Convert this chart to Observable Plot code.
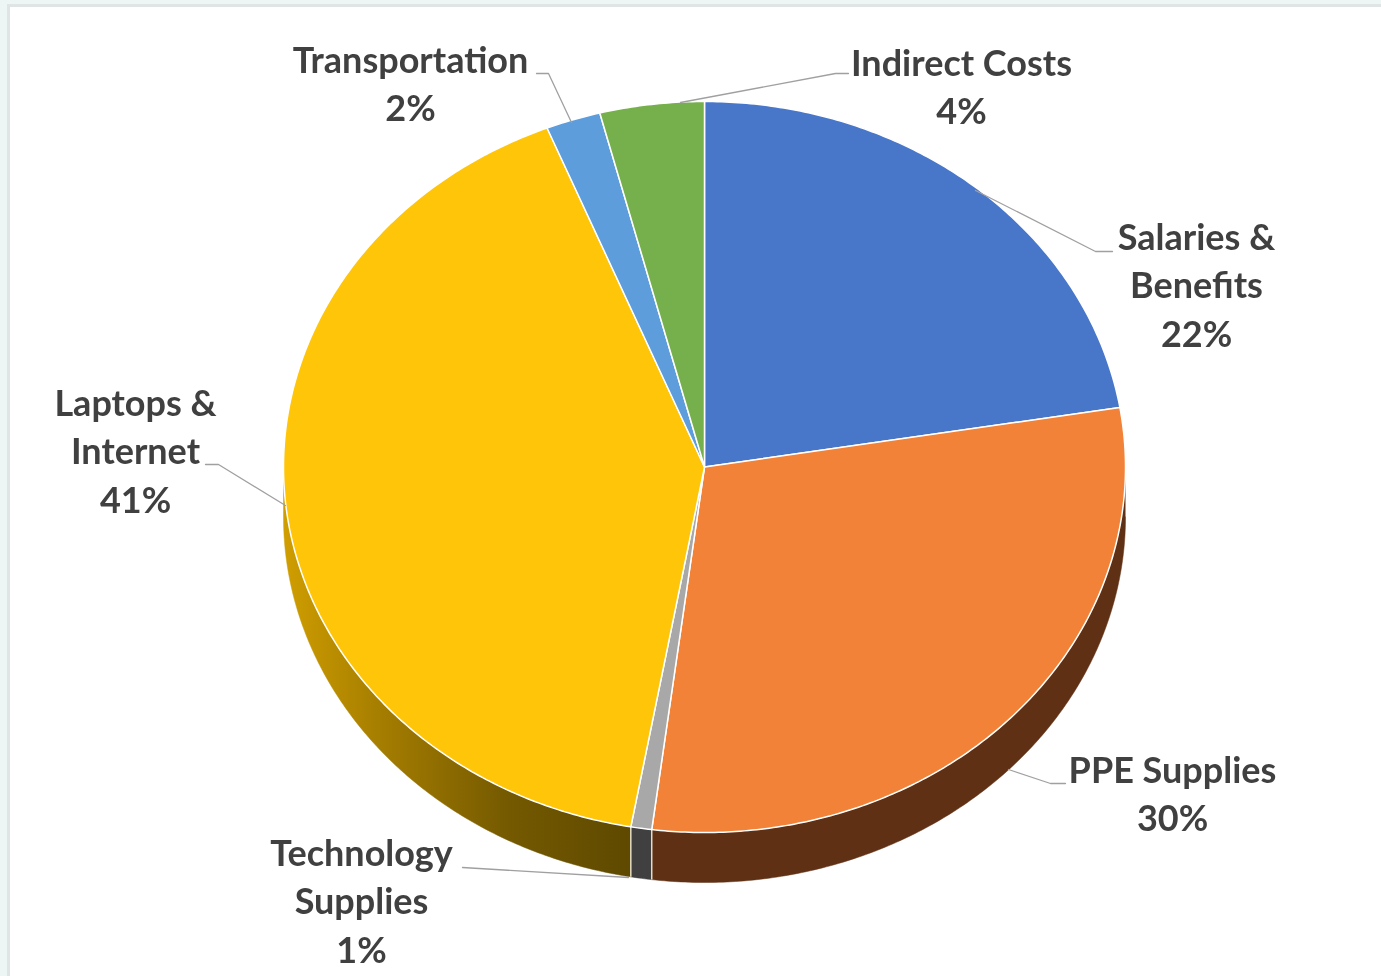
<!DOCTYPE html>
<html>
<head>
<meta charset="utf-8">
<script src="https://cdn.jsdelivr.net/npm/d3@7"></script>
<script src="https://cdn.jsdelivr.net/npm/@observablehq/plot@0.6"></script>
<style>
  html, body { margin: 0; padding: 0; background: #eef5f5; overflow: hidden; }
  #frame { position: absolute; left: 7px; top: 4px; right: 0; bottom: 0; background: #fff;
           border-left: 3px solid #dfe4e4; border-top: 3px solid #dfe4e4; }
  #chart { position: absolute; left: 0; top: 0; width: 1381px; height: 976px; }
  #chart svg { background: transparent; display: block; filter: blur(0.6px); }
</style>
</head>
<body>
<div id="frame"></div>
<div id="chart"></div>
<script>
// Data
const categories = ["Salaries & Benefits", "PPE Supplies", "Technology Supplies", "Laptops & Internet", "Transportation", "Indirect Costs"];
const shares = [22.4, 29.6, 0.8, 41.1, 2.1, 4];
const labelLines = ["Salaries &\nBenefits", "PPE Supplies", "Technology\nSupplies", "Laptops &\nInternet", "Transportation", "Indirect Costs"];

// Styles
const topColors = ["#4876c8", "#f28237", "#a8a8a8", "#ffc508", "#5e9ddb", "#75b04c"];
const sideColors = ["#2a4578", "#5f3014", "#404040", "url(#yellowSide)", "#375f85", "#466a2e"];

// Layout (separate from the data)
const pie = {cx: 704, cy: 466.5, rx: 421, ry: 365.5, depth: 50};
const labelPos = [[1196, 215], [1172, 748], [361, 831], [135, 381], [410, 38], [961, 41]];
const leaders = [
  [[1112, 251], [1095, 251], [975, 190]],
  [[1065, 783], [1050, 783], [1008, 769]],
  [[462, 867], [628, 877]],
  [[205, 464], [218, 464], [285, 505]],
  [[536, 73], [548, 73], [571, 122]],
  [[848, 73], [835, 73], [680, 102]]
];

const ex = t => pie.cx + pie.rx * Math.sin(t);
const ey = t => pie.cy - pie.ry * Math.cos(t);
const arc = (t0, t1) => {
  const n = Math.max(2, Math.ceil(Math.abs(t1 - t0) / 0.01));
  return d3.range(n + 1).map(i => t0 + (t1 - t0) * i / n);
};

const total = d3.sum(shares);
const ends = d3.cumsum(shares).map(v => v / total * 2 * Math.PI);
const wedges = categories.map((c, i) => ({c, i, t0: i ? ends[i - 1] : 0, t1: ends[i]}));

const topPts = wedges.flatMap(w => [
  {c: w.c, x: pie.cx, y: pie.cy},
  ...arc(w.t0, w.t1).map(t => ({c: w.c, x: ex(t), y: ey(t)})),
  {c: w.c, x: pie.cx, y: pie.cy}
]);

// Only the front half of the rim is visible
const sideMarks = wedges.flatMap(w => {
  const a = Math.max(w.t0, Math.PI / 2), b = Math.min(w.t1, 3 * Math.PI / 2);
  if (b <= a) return [];
  const ts = arc(a, b);
  const pts = [
    ...ts.map(t => ({x: ex(t), y: ey(t)})),
    ...ts.slice().reverse().map(t => ({x: ex(t), y: ey(t) + pie.depth}))
  ];
  return [Plot.line(pts, {x: "x", y: "y", fill: sideColors[w.i], stroke: sideColors[w.i], strokeWidth: 0.5})];
});

const seams = wedges.filter(w => w.t1 > Math.PI / 2 && w.t1 < 3 * Math.PI / 2)
  .map(w => ({x: ex(w.t1), y1: ey(w.t1), y2: ey(w.t1) + pie.depth}));

const labels = categories.map((c, i) => ({
  text: labelLines[i] + "\n" + Math.round(shares[i]) + "%",
  x: labelPos[i][0], y: labelPos[i][1]
}));

const leaderPts = leaders.flatMap((l, i) => l.map(([x, y]) => ({i, x, y})));

const gradient = () => {
  const ns = "http://www.w3.org/2000/svg";
  const defs = document.createElementNS(ns, "defs");
  const g = document.createElementNS(ns, "linearGradient");
  g.setAttribute("id", "yellowSide");
  [["0%", "#d09e00"], ["30%", "#a27b00"], ["65%", "#745900"], ["100%", "#5e4900"]].forEach(([o, col]) => {
    const s = document.createElementNS(ns, "stop");
    s.setAttribute("offset", o);
    s.setAttribute("stop-color", col);
    g.appendChild(s);
  });
  defs.appendChild(g);
  return defs;
};

const chart = Plot.plot({
  width: 1381,
  height: 976,
  margin: 0,
  style: {background: "transparent"},
  x: {domain: [0, 1381], range: [0, 1381], axis: null},
  y: {domain: [0, 976], range: [0, 976], axis: null},
  color: {domain: categories, range: topColors},
  marks: [
    gradient,
    ...sideMarks,
    Plot.link(seams, {x1: "x", x2: "x", y1: "y1", y2: "y2", stroke: "#e6dcc4", strokeWidth: 1.5}),
    Plot.line(topPts, {x: "x", y: "y", z: "c", fill: "c", stroke: "#fff", strokeWidth: 1.5, strokeLinejoin: "round"}),
    Plot.line(leaderPts, {x: "x", y: "y", z: "i", stroke: "#a0a0a0", strokeWidth: 1.3}),
    Plot.text(labels, {
      x: "x", y: "y", text: "text", lineAnchor: "top", lineHeight: 1.347,
      fontFamily: "Lato", fontWeight: 700, fontSize: 36, fill: "#404040"
    })
  ]
});
document.getElementById("chart").appendChild(chart);
</script>
</body>
</html>
